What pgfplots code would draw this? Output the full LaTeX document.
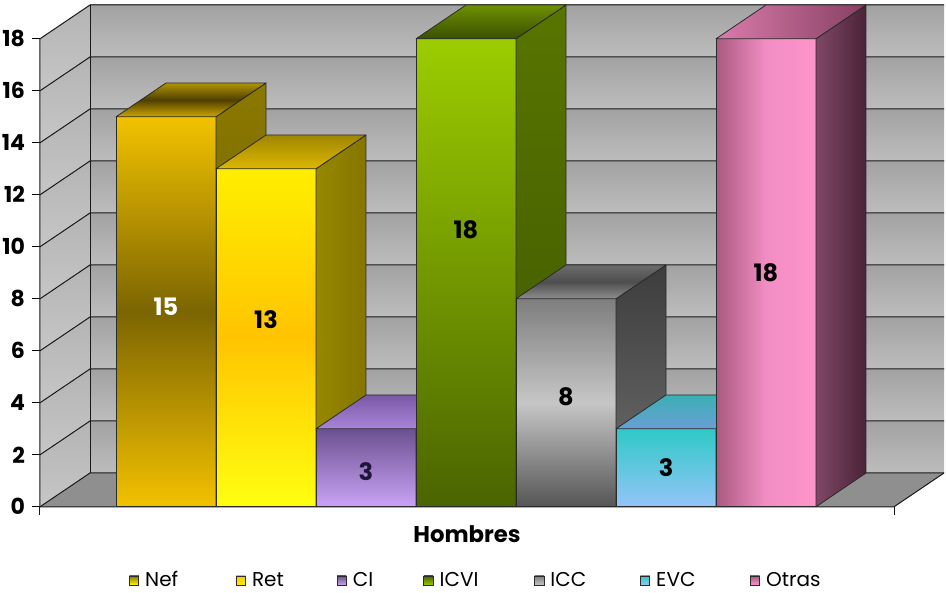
\documentclass[border=0pt]{standalone}
\usepackage{fontspec}
\setmainfont{Poppins}
\usepackage{pgfplots}
\pgfplotsset{compat=1.18}

% palette
\definecolor{edge}{HTML}{2B2B2B}
\definecolor{wallT}{HTML}{A2A2A2}
\definecolor{wallB}{HTML}{BDBDBD}
\definecolor{sideT}{HTML}{B4B4B4}
\definecolor{sideB}{HTML}{C6C6C6}
\definecolor{floorC}{HTML}{8F8F8F}
% Nef
\definecolor{Gold1}{HTML}{F2C200}
\definecolor{Gold2}{HTML}{F3C100}
\definecolor{Brown1}{HTML}{7B6502}
\definecolor{NefTopB}{HTML}{B09400}
\definecolor{NefTopM}{HTML}{4F3F00}
\definecolor{NefTopF}{HTML}{CDA600}
\definecolor{NefSideT}{HTML}{8A7800}
\definecolor{NefSideB}{HTML}{6C5C00}
% Ret
\definecolor{RetT}{HTML}{FFEE00}
\definecolor{RetM}{HTML}{FFC400}
\definecolor{RetB}{HTML}{FFFF10}
\definecolor{RetTopB}{HTML}{A08600}
\definecolor{RetTopF}{HTML}{DDB700}
\definecolor{RetSideL}{HTML}{968800}
\definecolor{RetSideR}{HTML}{857500}
% CI
\definecolor{CIT}{HTML}{6B5190}
\definecolor{CIB}{HTML}{CBA3F7}
\definecolor{CITopB}{HTML}{7B58A6}
\definecolor{CITopF}{HTML}{A985D8}
\definecolor{CIlab}{HTML}{1C1638}
% ICVI
\definecolor{IVT}{HTML}{9CCD00}
\definecolor{IVB}{HTML}{4A6400}
\definecolor{IVTopB}{HTML}{6E9000}
\definecolor{IVTopF}{HTML}{3A5000}
\definecolor{IVSideT}{HTML}{587500}
\definecolor{IVSideB}{HTML}{3E5600}
% ICC
\definecolor{CCT}{HTML}{7E7E7E}
\definecolor{CCM}{HTML}{C6C6C6}
\definecolor{CCB}{HTML}{555555}
\definecolor{CCTopB}{HTML}{6C6C6C}
\definecolor{CCTopM}{HTML}{4E4E4E}
\definecolor{CCTopF}{HTML}{8E8E8E}
\definecolor{CCSideT}{HTML}{3D3D3D}
\definecolor{CCSideB}{HTML}{707070}
% EVC
\definecolor{EVT}{HTML}{2EC9C6}
\definecolor{EVB}{HTML}{95C4F9}
\definecolor{EVTopB}{HTML}{3AB0B4}
\definecolor{EVTopF}{HTML}{6A9ED6}
% Otras
\definecolor{OtL}{HTML}{A95A80}
\definecolor{OtM}{HTML}{F28DC3}
\definecolor{OtR}{HTML}{FE94CA}
\definecolor{OtTopL}{HTML}{DA7CAC}
\definecolor{OtTopR}{HTML}{874062}
\definecolor{OtSideL}{HTML}{7F4767}
\definecolor{OtSideR}{HTML}{4B2337}

% oblique depth of the chart box: 0.5 category to the right, 1.3 units up
\pgfplotsset{
  face/.style={forget plot, draw=edge, line width=0.4pt, line join=round},
  gridl/.style={forget plot, draw=black!90, line width=0.5pt},
}
\tikzset{barlabel/.style={font=\bfseries\fontsize{12}{14}\selectfont, inner sep=0pt}}

% one 3-D bar: #1 left edge, #2 value, #3 front, #4 top, #5 side,
% #6 height of the value label, #7 label colour
\newcommand{\cube}[7]{%
  \pgfmathsetmacro\xa{#1}%
  \pgfmathsetmacro\xb{#1+1}%
  \pgfmathsetmacro\xc{#1+1.5}%
  \pgfmathsetmacro\xd{#1+0.5}%
  \pgfmathsetmacro\yt{#2+1.3}%
  \addplot[face,#3] coordinates {(\xa,0) (\xb,0) (\xb,#2) (\xa,#2)} -- cycle;
  \addplot[face,#5] coordinates {(\xb,0) (\xc,1.3) (\xc,\yt) (\xb,#2)} -- cycle;
  \addplot[face,#4] coordinates {(\xa,#2) (\xb,#2) (\xc,\yt) (\xd,\yt)} -- cycle;
  \edef\tmp{\noexpand\node[barlabel,text=#7] at (axis cs:\xd,#6) {#2};}\tmp
}

% one band of the back wall and of the side wall between two grid lines
\newcommand{\band}[4]{%
  \addplot[forget plot, draw=none, top color=wallT, bottom color=wallB]
    coordinates {(-0.26,#1) (8.28,#1) (8.28,#2) (-0.26,#2)} -- cycle;
  \addplot[forget plot, draw=none, top color=sideT, bottom color=sideB]
    coordinates {(-0.76,#3) (-0.26,#1) (-0.26,#2) (-0.76,#4)} -- cycle;
}

\begin{document}
\begin{tikzpicture}
\begin{axis}[
  scale only axis, width=452pt, height=250.9pt,
  xmin=-0.76, xmax=8.28, ymin=0, ymax=19.3,
  clip=false,
  axis x line=none, axis y line*=left,
  y axis line style={draw=none},
  ytick={0,2,...,18},
  tick align=outside, major tick length=4pt,
  tick style={black, line width=0.5pt},
  /pgf/number format/assume math mode=true,
  yticklabel style={font=\bfseries\fontsize{11}{13}\selectfont},
  legend image code/.code={\draw[#1, draw=edge, line width=0.4pt] (0pt,-2.3pt) rectangle (4.7pt,2.3pt);},
  legend columns=7,
  legend cell align=left,
  legend style={at={(axis description cs:0.0985,-0.147)}, anchor=west,
    draw=none, fill=none, inner sep=0pt, outer sep=0pt,
    font=\fontsize{10}{12}\selectfont,
    nodes={inner sep=0pt},
    /tikz/every odd column/.append style={column sep=3pt}},
]
% floor
\addplot[forget plot, draw=none, fill=floorC]
  coordinates {(-0.76,0) (7.78,0) (8.28,1.3) (-0.26,1.3)} -- cycle;
% back and side walls, banded
\band{1.3}{3.3}{0}{2}\band{3.3}{5.3}{2}{4}\band{5.3}{7.3}{4}{6}
\band{7.3}{9.3}{6}{8}\band{9.3}{11.3}{8}{10}\band{11.3}{13.3}{10}{12}
\band{13.3}{15.3}{12}{14}\band{15.3}{17.3}{14}{16}\band{17.3}{19.3}{16}{18}
% grid lines: side wall diagonal, then along the back wall
\addplot[gridl] coordinates {(-0.76,0) (-0.26,1.3) (8.28,1.3)};
\addplot[gridl] coordinates {(-0.76,2) (-0.26,3.3) (8.28,3.3)};
\addplot[gridl] coordinates {(-0.76,4) (-0.26,5.3) (8.28,5.3)};
\addplot[gridl] coordinates {(-0.76,6) (-0.26,7.3) (8.28,7.3)};
\addplot[gridl] coordinates {(-0.76,8) (-0.26,9.3) (8.28,9.3)};
\addplot[gridl] coordinates {(-0.76,10) (-0.26,11.3) (8.28,11.3)};
\addplot[gridl] coordinates {(-0.76,12) (-0.26,13.3) (8.28,13.3)};
\addplot[gridl] coordinates {(-0.76,14) (-0.26,15.3) (8.28,15.3)};
\addplot[gridl] coordinates {(-0.76,16) (-0.26,17.3) (8.28,17.3)};
\addplot[gridl] coordinates {(-0.76,18) (-0.26,19.3) (8.28,19.3)};
\addplot[gridl] coordinates {(-0.26,1.3) (-0.26,19.3)};
% front axes
\addplot[gridl] coordinates {(-0.76,18) (-0.76,0) (7.78,0) (8.28,1.3)};
\addplot[gridl] coordinates {(-0.76,0) (-0.76,-0.33)};
\addplot[gridl] coordinates {(7.78,0) (7.78,-0.33)};

% bars, left to right
\cube{0}{15}{top color=Gold1,bottom color=Gold2,middle color=Brown1}
  {top color=NefTopB,bottom color=NefTopF,middle color=NefTopM}
  {top color=NefSideT,bottom color=NefSideB}{7.7}{white}
\cube{1}{13}{top color=RetT,bottom color=RetB,middle color=RetM}
  {top color=RetTopB,bottom color=RetTopF}
  {left color=RetSideL,right color=RetSideR}{7.2}{black}
\cube{2}{3}{top color=CIT,bottom color=CIB}
  {top color=CITopB,bottom color=CITopF}
  {top color=CITopB,bottom color=CITopF}{1.35}{CIlab}
\cube{3}{18}{top color=IVT,bottom color=IVB}
  {top color=IVTopB,bottom color=IVTopF}
  {top color=IVSideT,bottom color=IVSideB}{10.65}{black}
\cube{4}{8}{top color=CCT,bottom color=CCB,middle color=CCM}
  {top color=CCTopB,bottom color=CCTopF,middle color=CCTopM}
  {top color=CCSideT,bottom color=CCSideB}{4.25}{black}
\cube{5}{3}{top color=EVT,bottom color=EVB}
  {top color=EVTopB,bottom color=EVTopF}
  {top color=EVTopB,bottom color=EVTopF}{1.5}{black}
\cube{6}{18}{left color=OtL,right color=OtR,middle color=OtM}
  {left color=OtTopL,right color=OtTopR}
  {left color=OtSideL,right color=OtSideR}{9.0}{black}

\node[font=\bfseries\fontsize{11.4}{13}\selectfont] at (axis cs:3.51,-1.07) {Hombres};

\addlegendimage{top color=NefTopM!60!Gold1, bottom color=yellow}
\addlegendentry{\makebox[45.3pt][l]{Nef}}
\addlegendimage{top color=RetM, bottom color=RetT}
\addlegendentry{\makebox[42.3pt][l]{Ret}}
\addlegendimage{top color=CIT, bottom color=CIB}
\addlegendentry{\makebox[35.3pt][l]{CI}}
\addlegendimage{top color=IVB, bottom color=IVT}
\addlegendentry{\makebox[47.3pt][l]{ICVI}}
\addlegendimage{top color=CCT, bottom color=CCM}
\addlegendentry{\makebox[44.8pt][l]{ICC}}
\addlegendimage{top color=EVT, bottom color=EVB}
\addlegendentry{\makebox[46.8pt][l]{EVC}}
\addlegendimage{top color=OtL, bottom color=OtR}
\addlegendentry{Otras}

\coordinate (o) at (rel axis cs:0,0);
\end{axis}
\pgfresetboundingbox
\path ([shift={(-20pt,-43pt)}]o) rectangle ([shift={(453pt,253.4pt)}]o);
\end{tikzpicture}
\end{document}
